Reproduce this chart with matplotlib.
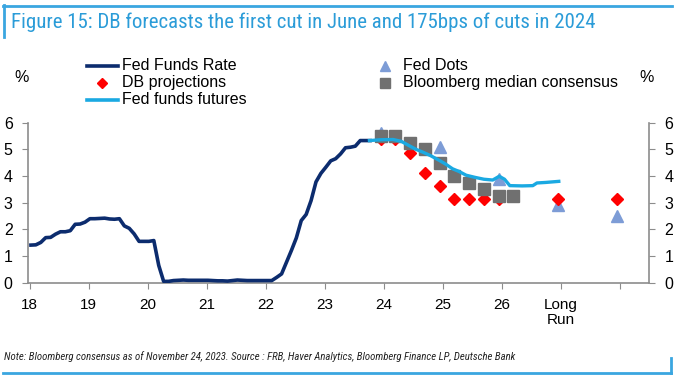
import matplotlib
matplotlib.use("Agg")
import matplotlib.pyplot as plt
import matplotlib.font_manager as fm
from matplotlib.lines import Line2D
import numpy as np

# ---------------- data ----------------
ffr_2018 = [1.41, 1.42, 1.51, 1.69, 1.70, 1.82, 1.91, 1.91, 1.95, 2.19, 2.20, 2.27]
ffr_2019 = [2.40, 2.40, 2.41, 2.42, 2.39, 2.38, 2.40, 2.13, 2.04, 1.83, 1.55, 1.55]
ffr_2020 = [1.55, 1.58, 0.65, 0.05, 0.05, 0.08, 0.09, 0.10, 0.09, 0.09, 0.09, 0.09]
ffr_2021 = [0.09, 0.08, 0.07, 0.07, 0.06, 0.08, 0.10, 0.09, 0.08, 0.08, 0.08, 0.08]
ffr_2022 = [0.08, 0.08, 0.20, 0.33, 0.77, 1.21, 1.68, 2.33, 2.56, 3.08, 3.78, 4.10]
ffr_2023 = [4.33, 4.57, 4.65, 4.83, 5.06, 5.08, 5.12, 5.33, 5.33, 5.33]
ffr_values = ffr_2018 + ffr_2019 + ffr_2020 + ffr_2021 + ffr_2022 + ffr_2023
ffr_x = [18.02 + m / 12 for m in range(len(ffr_values))]

futures_x = [23.76, 23.95, 24.16, 24.30, 24.44, 24.55, 24.66, 24.80, 24.95, 25.05,
             25.17, 25.28, 25.40, 25.55, 25.70, 25.85, 25.96, 26.05, 26.14, 26.35,
             26.53, 26.60, 26.75, 26.97]
futures_values = [5.33, 5.36, 5.37, 5.30, 5.13, 5.00, 4.90, 4.76, 4.58, 4.45,
                  4.27, 4.17, 4.03, 3.95, 3.88, 3.85, 3.99, 3.88, 3.64, 3.63,
                  3.64, 3.74, 3.76, 3.80]

db_x = [23.95, 24.20, 24.45, 24.70, 24.95, 25.20, 25.45, 25.70, 25.95, 26.95, 27.95]
db_values = [5.375, 5.375, 4.875, 4.125, 3.625, 3.125, 3.125, 3.125, 3.125, 3.125, 3.125]

bbg_x = [23.95, 24.20, 24.45, 24.70, 24.95, 25.20, 25.45, 25.70, 25.95, 26.20]
bbg_values = [5.50, 5.50, 5.25, 5.00, 4.50, 4.00, 3.75, 3.50, 3.25, 3.25]

dots_x = [23.95, 24.95, 25.95, 26.95, 27.95]
dots_values = [5.6, 5.1, 3.9, 2.9, 2.5]

xtick_pos = [18, 19, 20, 21, 22, 23, 24, 25, 26, 27, 28]
xtick_labels = ["18", "19", "20", "21", "22", "23", "24", "25", "26", "Long\nRun", ""]
ytick_pos = [0, 1, 2, 3, 4, 5, 6]

title_text = "Figure 15: DB forecasts the first cut in June and 175bps of cuts in 2024"
note_text = ("Note: Bloomberg consensus as of November 24, 2023. Source : FRB, Haver Analytics, "
             "Bloomberg Finance LP, Deutsche Bank")

# ---------------- style ----------------
C_NAVY = "#0c2c6e"
C_FUT = "#1aa9e2"
C_RED = "#ff0000"
C_DOTS = "#7d9cd6"
C_BBG = "#707070"
C_BLUE = "#2b9cd8"
C_BORDER = "#3aa6e0"
C_SPINE = "#8c8c8c"

fonts = fm.fontManager.ttflist
names = {f.name for f in fonts}
BASE = "Liberation Sans" if "Liberation Sans" in names else "DejaVu Sans"

# look for a condensed / narrow face for title and note
NARROW = None
NARROW_STRETCH = "normal"
for cand in ["Liberation Sans Narrow", "Roboto Condensed", "Open Sans Condensed",
             "Noto Sans Condensed", "DejaVu Sans Condensed"]:
    if cand in names:
        NARROW = cand
        break
if NARROW is None:
    for f in fonts:
        if f.name in ("Roboto", "Noto Sans", "Open Sans", "Liberation Sans", "DejaVu Sans") \
                and str(f.stretch) in ("condensed", "semi-condensed", "extra-condensed"):
            NARROW = f.name
            NARROW_STRETCH = f.stretch
            break
if NARROW is None:
    NARROW = "Roboto" if "Roboto" in names else BASE

plt.rcParams["font.family"] = [BASE, "DejaVu Sans"]

W, H = 680, 383
fig = plt.figure(figsize=(W / 100, H / 100), dpi=100)


def fx(px):
    return px / W


def fy(py):
    return 1 - py / H


ax_left, ax_right, ax_top, ax_bottom = 28, 649, 122.7, 282.7
ax = fig.add_axes([fx(ax_left), fy(ax_bottom), fx(ax_right - ax_left), (ax_bottom - ax_top) / H])

ax.plot(dots_x, dots_values, linestyle="none", marker="^", ms=8.5, color=C_DOTS, zorder=2)
ax.plot(db_x, db_values, linestyle="none", marker="D", ms=6.5, color=C_RED, zorder=3)
ax.plot(bbg_x, bbg_values, linestyle="none", marker="s", ms=8, color=C_BBG, zorder=4)
ax.plot(ffr_x, ffr_values, color=C_NAVY, lw=2.6, zorder=5, solid_joinstyle="round")
ax.plot(futures_x, futures_values, color=C_FUT, lw=2.4, zorder=6, solid_joinstyle="round")

ax.set_xlim(17.97, 28.5)
ax.set_ylim(0, 6)
ax.set_xticks(xtick_pos)
ax.set_xticklabels(xtick_labels, fontsize=11, linespacing=1.05)
ax.set_yticks(ytick_pos)
ax.set_yticklabels([str(v) for v in ytick_pos], fontsize=11.5)
ax.tick_params(axis="y", which="both", direction="out", length=4, color=C_SPINE,
               left=True, right=True, labelleft=True, labelright=True, pad=7)
ax.tick_params(axis="x", direction="out", length=4, color=C_SPINE, pad=7)
ax.spines["top"].set_visible(False)
for s in ["left", "right", "bottom"]:
    ax.spines[s].set_color(C_SPINE)
    ax.spines[s].set_linewidth(1.2)

# ---------------- legend (manual) ----------------
LEG_FS = 11.5


def leg_line(x0, x1, y, color):
    fig.add_artist(Line2D([fx(x0), fx(x1)], [fy(y), fy(y)], color=color, lw=2.6,
                          transform=fig.transFigure))


def leg_marker(x, y, marker, color, ms):
    fig.add_artist(Line2D([fx(x)], [fy(y)], marker=marker, color=color, ms=ms,
                          linestyle="none", transform=fig.transFigure))


leg_line(87, 118, 65.5, C_NAVY)
fig.text(fx(122), fy(65), "Fed Funds Rate", fontsize=LEG_FS, va="center", ha="left")
leg_marker(102, 83, "D", C_RED, 5.5)
fig.text(fx(122), fy(82), "DB projections", fontsize=LEG_FS, va="center", ha="left")
leg_line(87, 118, 99.5, C_FUT)
fig.text(fx(122), fy(99), "Fed funds futures", fontsize=LEG_FS, va="center", ha="left")

leg_marker(385, 66, "^", C_DOTS, 7)
fig.text(fx(403), fy(65), "Fed Dots", fontsize=LEG_FS, va="center", ha="left")
leg_marker(385, 83, "s", C_BBG, 6.5)
fig.text(fx(403), fy(82), "Bloomberg median consensus", fontsize=LEG_FS, va="center", ha="left")

fig.text(fx(22), fy(77), "%", fontsize=11.5, va="center", ha="center")
fig.text(fx(647), fy(78), "%", fontsize=11.5, va="center", ha="center")

# ---------------- title / note / frame ----------------
t = fig.text(fx(11), fy(22), title_text, fontsize=14, color=C_BLUE, va="center", ha="left",
             family=[NARROW, "DejaVu Sans"], fontstretch=NARROW_STRETCH)
n = fig.text(fx(4), fy(357), note_text, fontsize=7, style="italic", color="#222222",
             va="center", ha="left", family=[NARROW, "DejaVu Sans"], fontstretch=NARROW_STRETCH)

fig.canvas.draw()
r = fig.canvas.get_renderer()
for txt, target in [(t, 588), (n, 511)]:
    w = txt.get_window_extent(renderer=r).width
    txt.set_fontsize(txt.get_fontsize() * target / w)

fig.add_artist(Line2D([fx(3), fx(672)], [fy(5.5), fy(5.5)], color=C_BORDER, lw=2,
                      transform=fig.transFigure))
fig.add_artist(Line2D([fx(3.5), fx(3.5)], [fy(5), fy(37)], color=C_BORDER, lw=2,
                      transform=fig.transFigure))
fig.add_artist(Line2D([fx(3), fx(671)], [fy(373), fy(373)], color=C_BORDER, lw=2,
                      transform=fig.transFigure))
fig.add_artist(Line2D([fx(670.5), fx(670.5)], [fy(358), fy(373)], color=C_BORDER, lw=2,
                      transform=fig.transFigure))

fig.savefig("out.png", dpi=100)
